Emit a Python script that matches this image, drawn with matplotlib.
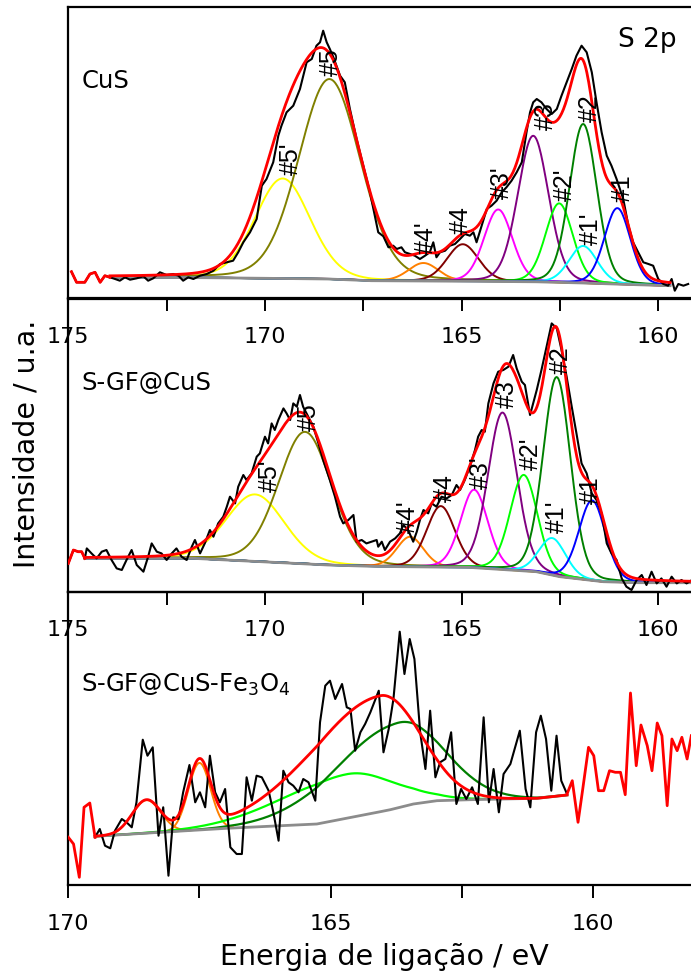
import numpy as np
import matplotlib.pyplot as plt

plt.rcParams['font.family'] = 'DejaVu Sans'
plt.rcParams['mathtext.default'] = 'regular'

# ---------------- CuS (top panel) ----------------
e_cus = [174.92, 174.79, 174.58, 174.45, 174.32, 174.19, 174.07, 173.94, 173.81, 173.69,
         173.56, 173.43, 173.26, 173.09, 172.97, 172.84, 172.67, 172.50, 172.33, 172.20,
         172.08, 171.95, 171.82, 171.65, 171.48, 171.31, 171.14, 170.97, 170.81, 170.68,
         170.55, 170.38, 170.21, 170.08, 169.96, 169.79, 169.66, 169.58, 169.45, 169.28,
         169.11, 168.94, 168.81, 168.69, 168.60, 168.52, 168.43, 168.35, 168.26, 168.09,
         167.97, 167.84, 167.67, 167.50, 167.33, 167.12, 166.99, 166.86, 166.74, 166.65,
         166.53, 166.44, 166.31, 166.19, 166.06, 165.93, 165.81, 165.72, 165.64, 165.55,
         165.42, 165.30, 165.17, 165.04, 164.92, 164.79, 164.70, 164.62, 164.49, 164.36,
         164.24, 164.11, 163.98, 163.86, 163.73, 163.60, 163.47, 163.35, 163.26, 163.18,
         163.09, 162.97, 162.84, 162.71, 162.58, 162.46, 162.33, 162.20, 162.08, 161.95,
         161.82, 161.69, 161.57, 161.44, 161.31, 161.19, 161.06, 160.89, 160.76, 160.64,
         160.51, 160.38, 160.25, 160.13, 160.00, 159.87, 159.75, 159.66, 159.58, 159.49,
         159.36, 159.24]
i_cus = [26.3, 15.7, 15.7, 24.0, 25.7, 15.7, 22.3, 20.7, 19.0, 17.3,
         20.7, 18.3, 19.7, 21.7, 17.3, 19.7, 25.7, 23.0, 24.0, 22.3,
         17.3, 20.7, 19.0, 22.3, 24.0, 27.3, 34.0, 35.7, 37.3, 45.7,
         55.7, 65.7, 79.0, 112.3, 119.0, 135.7, 162.3, 172.3, 185.7, 192.3,
         209.0, 235.7, 239.0, 252.3, 255.7, 267.3, 255.7, 249.0, 240.7, 222.3,
         215.7, 189.0, 159.0, 132.3, 105.7, 65.7, 61.7, 50.7, 52.3, 49.0,
         50.7, 45.7, 44.0, 42.3, 39.0, 42.3, 45.7, 55.7, 40.7, 45.7,
         47.3, 52.3, 54.0, 59.0, 64.0, 62.3, 65.7, 55.7, 72.3, 89.0,
         92.3, 97.3, 105.7, 110.7, 117.3, 125.7, 135.7, 165.7, 185.7, 195.7,
         199.0, 195.7, 189.0, 184.0, 189.0, 202.3, 215.7, 229.0, 242.3, 252.3,
         245.7, 225.7, 195.7, 165.7, 142.3, 132.3, 119.0, 99.0, 72.3, 55.7,
         45.7, 35.7, 34.0, 32.3, 19.0, 14.0, 12.3, 19.0, 7.3, 14.0,
         12.3, 14.0]
bg_e_cus = [173.94, 171.5, 170.0, 168.4, 167.3, 165.5, 164.0, 163.1, 161.9, 160.9, 159.7]
bg_i_cus = [20.7, 20.3, 19.7, 19.0, 17.3, 16.9, 16.5, 16.2, 15.0, 13.7, 12.3]
# peak centre, height, FWHM
names_cus = ["#5'", "#5", "#4'", "#4", "#3'", "#3", "#2'", "#2", "#1'", "#1"]
pos_cus = [169.55, 168.36, 165.97, 164.97, 164.07, 163.18, 162.52, 161.91, 161.91, 161.04]
amp_cus = [100, 200, 18, 37, 72, 146, 79, 159, 37, 76]
fwhm_cus = [1.65, 1.85, 0.9, 0.95, 0.85, 0.92, 0.82, 0.82, 0.85, 0.78]
lab_e_cus = [169.34, 168.32, 165.91, 165.02, 163.97, 162.85, 162.37, 161.74, 161.71, 160.90]
lab_i_cus = [140, 237, 61, 79, 116, 183, 114, 191, 70, 111]

# ---------------- S-GF@CuS (middle panel) ----------------
e_gf = [175.00, 174.87, 174.75, 174.66, 174.58, 174.53, 174.41, 174.28, 174.15, 174.03,
        173.90, 173.77, 173.64, 173.52, 173.39, 173.26, 173.09, 172.97, 172.88, 172.75,
        172.63, 172.50, 172.37, 172.25, 172.12, 171.99, 171.86, 171.78, 171.65, 171.53,
        171.40, 171.31, 171.19, 171.06, 170.97, 170.89, 170.76, 170.68, 170.55, 170.47,
        170.34, 170.21, 170.13, 170.00, 169.92, 169.83, 169.75, 169.66, 169.53, 169.45,
        169.36, 169.28, 169.19, 169.11, 169.03, 168.90, 168.77, 168.64, 168.52, 168.35,
        168.22, 168.09, 168.01, 167.88, 167.75, 167.67, 167.54, 167.42, 167.29, 167.16,
        167.12, 167.03, 166.95, 166.82, 166.69, 166.57, 166.48, 166.36, 166.23, 166.14,
        166.06, 165.97, 165.85, 165.76, 165.64, 165.51, 165.38, 165.25, 165.13, 165.04,
        164.92, 164.79, 164.66, 164.58, 164.49, 164.41, 164.32, 164.19, 164.07, 163.94,
        163.81, 163.69, 163.60, 163.47, 163.39, 163.26, 163.18, 163.09, 162.97, 162.84,
        162.71, 162.58, 162.46, 162.33, 162.20, 162.08, 161.95, 161.82, 161.69, 161.57,
        161.44, 161.31, 161.19, 161.06, 160.93, 160.81, 160.68, 160.55, 160.42, 160.30,
        160.17, 160.04, 159.92, 159.79, 159.66, 159.53, 159.41, 159.28, 159.17]
i_gf = [28.3, 41.7, 40.0, 40.0, 33.3, 43.3, 38.3, 33.3, 40.0, 41.7,
        31.7, 23.3, 21.7, 31.7, 41.7, 26.7, 20.0, 35.0, 48.3, 40.0,
        38.3, 31.7, 38.3, 43.3, 35.0, 31.7, 45.0, 51.7, 38.3, 48.3,
        61.7, 55.0, 68.3, 75.0, 85.0, 95.0, 88.3, 105.0, 116.7, 111.7,
        118.3, 135.0, 138.3, 155.0, 148.3, 168.3, 161.7, 171.7, 183.3, 178.3,
        171.7, 188.3, 185.0, 196.7, 185.0, 175.0, 165.0, 148.3, 131.7, 111.7,
        95.0, 75.0, 68.3, 71.7, 76.7, 50.0, 51.7, 48.3, 50.0, 51.7,
        45.0, 50.0, 41.7, 50.0, 53.3, 58.3, 66.7, 61.7, 50.0, 60.0,
        71.7, 81.7, 78.3, 88.3, 85.0, 95.0, 93.3, 96.7, 106.7, 101.7,
        111.7, 125.0, 141.7, 155.0, 161.7, 160.0, 188.3, 208.3, 220.0, 221.7,
        225.0, 236.7, 223.3, 210.0, 206.7, 176.7, 188.3, 201.7, 221.7, 245.0,
        268.3, 263.3, 241.7, 215.0, 185.0, 158.3, 128.3, 118.3, 98.3, 91.7,
        78.3, 48.3, 38.3, 31.7, 13.3, 5.0, 1.7, 11.7, 16.7, 6.7,
        20.0, 8.3, 13.3, 5.0, 15.0, 8.3, 11.7, 8.3, 11.0]
bg_e_gf = [174.58, 171.8, 170.1, 168.4, 167.2, 164.8, 163.1, 162.5, 161.4, 160.5, 159.0]
bg_i_gf = [33.3, 33.3, 30.0, 26.7, 25.3, 24.3, 20.0, 15.0, 10.0, 9.0, 9.0]
names_gf = names_cus
pos_gf = [170.25, 168.98, 166.31, 165.53, 164.68, 163.96, 163.42, 162.58, 162.69, 161.68]
amp_gf = [67, 132, 30, 61, 78, 157, 96, 199, 37, 80]
fwhm_gf = [1.75, 1.6, 0.8, 0.85, 0.82, 0.87, 0.82, 0.82, 0.8, 0.8]
lab_e_gf = [169.87, 168.88, 166.36, 165.42, 164.51, 163.85, 163.24, 162.48, 162.58, 161.71]
lab_i_gf = [117, 176, 76, 105, 120, 199, 139, 233, 76, 103]

colors = ['#FFFF00', '#808000', '#FF8000', '#800000', '#FF00FF',
          '#800080', '#00FF00', '#008000', '#00FFFF', '#0000FF']

# ---------------- S-GF@CuS-Fe3O4 (bottom panel) ----------------
e_fe = [170.00, 169.90, 169.79, 169.70, 169.59, 169.49, 169.40, 169.30, 169.20, 169.11,
        168.98, 168.89, 168.79, 168.70, 168.58, 168.49, 168.39, 168.28, 168.19, 168.09,
        168.00, 167.90, 167.81, 167.69, 167.58, 167.49, 167.39, 167.30, 167.20, 167.11,
        167.01, 166.91, 166.79, 166.69, 166.60, 166.50, 166.41, 166.31, 166.18, 166.09,
        165.99, 165.90, 165.80, 165.71, 165.61, 165.52, 165.42, 165.29, 165.20, 165.10,
        165.01, 164.91, 164.78, 164.69, 164.62, 164.53, 164.43, 164.34, 164.24, 164.08,
        163.99, 163.89, 163.80, 163.68, 163.59, 163.49, 163.40, 163.29, 163.19, 163.10,
        163.00, 162.91, 162.81, 162.70, 162.60, 162.51, 162.41, 162.30, 162.19, 162.08,
        161.98, 161.89, 161.79, 161.70, 161.57, 161.39, 161.28, 161.19, 161.08, 160.99,
        160.89, 160.79, 160.69, 160.60, 160.49, 160.39, 160.28, 160.19, 160.08, 159.98,
        159.89, 159.79, 159.68, 159.57, 159.47, 159.38, 159.28, 159.17, 159.08, 158.96,
        158.87, 158.77, 158.68, 158.58, 158.49, 158.39, 158.30, 158.20, 158.12]
i_fe = [47.7, 41.0, 7.7, 77.7, 82.0, 47.7, 56.0, 39.3, 36.7, 54.3,
        66.0, 62.7, 57.7, 82.7, 145.3, 129.3, 137.7, 49.3, 77.7, 9.3,
        67.7, 66.0, 92.7, 120.0, 82.7, 92.7, 77.7, 129.3, 92.7, 82.7,
        96.0, 37.7, 31.0, 31.0, 107.7, 84.3, 109.3, 107.7, 94.3, 72.7,
        44.3, 114.3, 102.7, 99.3, 92.7, 106.0, 102.7, 84.3, 162.7, 199.3,
        204.3, 186.0, 201.0, 177.7, 176.0, 134.3, 152.7, 161.0, 172.7, 194.3,
        132.7, 156.0, 186.0, 253.3, 211.0, 246.0, 226.0, 152.7, 116.0, 174.3,
        107.7, 122.7, 126.0, 152.7, 81.0, 96.0, 86.0, 97.7, 81.0, 167.7,
        82.7, 116.0, 72.7, 111.0, 121.0, 154.3, 96.0, 77.7, 152.7, 169.3,
        146.0, 94.3, 149.3, 104.3, 91.0, 104.3, 62.7, 96.0, 137.7, 129.3,
        94.3, 94.3, 114.3, 112.7, 112.7, 90.3, 192.0, 119.3, 160.0, 139.3,
        114.3, 162.0, 149.3, 79.3, 146.0, 134.3, 147.7, 126.0, 149.3]
bg_e_fe = [169.49, 168.25, 166.98, 165.26, 164.05, 163.86, 163.42, 162.97, 162.33, 161.06, 160.49]
bg_i_fe = [48.7, 52.7, 56.7, 61.0, 73.3, 75.3, 81.0, 84.3, 85.3, 86.7, 90.0]
# narrow orange peaks: centre, height, FWHM
pos_fe_or = [168.51, 167.50]
amp_fe_or = [33, 67]
fwhm_fe_or = [0.64, 0.5]
# broad peaks: centre, height, sigma (high-BE side), sigma (low-BE side)
pos_fe = [164.69, 163.70]
amp_fe = [44, 85]
sl_fe = [1.25, 1.2]
sr_fe = [0.88, 0.85]
col_fe = ['#00FF00', '#008000']
env_fe = [164.05, 116, 1.35, 0.75]


def pvoigt(x, c, a, w, eta=0.15):
    g = np.exp(-4 * np.log(2) * (x - c) ** 2 / w ** 2)
    lo = 1 / (1 + 4 * (x - c) ** 2 / w ** 2)
    return a * ((1 - eta) * g + eta * lo)


def agauss(x, c, a, sl, sr):
    s = np.where(x > c, sl, sr)
    return a * np.exp(-0.5 * ((x - c) / s) ** 2)


def setup(ax, xlim, ylim, major, minor):
    ax.set_xlim(*xlim)
    ax.set_ylim(*ylim)
    ax.set_yticks([])
    ax.set_xticks(major)
    ax.set_xticks(minor, minor=True)
    ax.set_xticklabels([str(m) for m in major])
    ax.tick_params(axis='x', which='both', direction='out', length=9, width=1.4,
                   labelsize=16, pad=11)
    for s in ax.spines.values():
        s.set_linewidth(1.6)
    ax.spines['right'].set_visible(False)
    ax.patch.set_visible(False)


def fitted_panel(ax, e, i, bg_e, bg_i, pos, amp, fwhm, names, lab_e, lab_i):
    e = np.array(e)
    i = np.array(i)
    hi, lo = bg_e[0], bg_e[-1]
    x = np.linspace(hi, lo, 600)
    bgx = np.interp(x, bg_e[::-1], bg_i[::-1])
    total = bgx.copy()
    for c, a, w, col in zip(pos, amp, fwhm, colors):
        comp = pvoigt(x, c, a, w)
        total += comp
        ax.plot(x, bgx + comp, color=col, lw=1.4, zorder=2)
    ax.plot(bg_e, bg_i, color='#8c8c8c', lw=2.0, zorder=3)
    ax.plot(e, i, color='black', lw=1.5, zorder=4)
    ax.plot(x, total, color='red', lw=2.0, zorder=5)
    out = e >= hi
    ax.plot(e[out], i[out], color='red', lw=2.0, zorder=5)
    for n, le, li in zip(names, lab_e, lab_i):
        ax.text(le, li, n, rotation=90, ha='center', va='center', fontsize=18,
                family='Liberation Sans', zorder=6)


fig = plt.figure(figsize=(6.91, 9.79), dpi=100)
W, H = 691.0, 979.0
left = 68.3 / W
width = 629.3 / W
ax1 = fig.add_axes([left, 1 - 299 / H, width, 290.7 / H])
ax2 = fig.add_axes([left, 1 - 592.7 / H, width, 292.7 / H])
ax3 = fig.add_axes([left, 1 - 886 / H, width, 293.3 / H])

setup(ax1, (175, 159), (0, 290.7), [175, 170, 165, 160], [172.5, 167.5, 162.5])
setup(ax2, (175, 159), (0, 292.7), [175, 170, 165, 160], [172.5, 167.5, 162.5])
setup(ax3, (170, 158), (0, 293.3), [170, 165, 160], [167.5, 162.5])

fitted_panel(ax1, e_cus, i_cus, bg_e_cus, bg_i_cus, pos_cus, amp_cus, fwhm_cus,
             names_cus, lab_e_cus, lab_i_cus)
fitted_panel(ax2, e_gf, i_gf, bg_e_gf, bg_i_gf, pos_gf, amp_gf, fwhm_gf,
             names_gf, lab_e_gf, lab_i_gf)

# bottom panel
e = np.array(e_fe)
i = np.array(i_fe)
hi, lo = bg_e_fe[0], bg_e_fe[-1]
x = np.linspace(hi, lo, 600)
bgx = np.interp(x, bg_e_fe[::-1], bg_i_fe[::-1])
total = bgx + agauss(x, *env_fe)
for c, a, w in zip(pos_fe_or, amp_fe_or, fwhm_fe_or):
    comp = pvoigt(x, c, a, w, eta=0.0)
    total += comp
    m = np.abs(x - c) < 1.3 * w
    ax3.plot(x[m], bgx[m] + comp[m], color='#FF8000', lw=1.4, zorder=2)
for c, a, sl, sr, col in zip(pos_fe, amp_fe, sl_fe, sr_fe, col_fe):
    ax3.plot(x, bgx + agauss(x, c, a, sl, sr), color=col, lw=1.6, zorder=2)
ax3.plot(bg_e_fe, bg_i_fe, color='#8c8c8c', lw=2.0, zorder=3)
inside = (e <= hi) & (e >= lo)
ax3.plot(e[inside], i[inside], color='black', lw=1.5, zorder=4)
ax3.plot(x, total, color='red', lw=2.0, zorder=5)
ax3.plot(e[e >= hi], i[e >= hi], color='red', lw=2.0, zorder=5)
ax3.plot(e[e <= lo], i[e <= lo], color='red', lw=2.0, zorder=5)

ax1.text(174.65, 211, 'CuS', fontsize=17.5, ha='left', va='baseline')
ax1.text(161.02, 252, 'S 2p', fontsize=19, ha='left', va='baseline')
ax2.text(174.68, 203, 'S-GF@CuS', fontsize=17.5, ha='left', va='baseline')
ax3.text(169.76, 194, 'S-GF@CuS-Fe$_3$O$_4$', fontsize=17.5, ha='left', va='baseline')

fig.text(27 / W, 1 - 444 / H, 'Intensidade / u.a.', rotation=90, fontsize=20.5,
         ha='center', va='center')
fig.text(384 / W, 1 - 957 / H, 'Energia de ligação / eV', fontsize=20.5,
         ha='center', va='center')

fig.savefig('out.png', dpi=100)
